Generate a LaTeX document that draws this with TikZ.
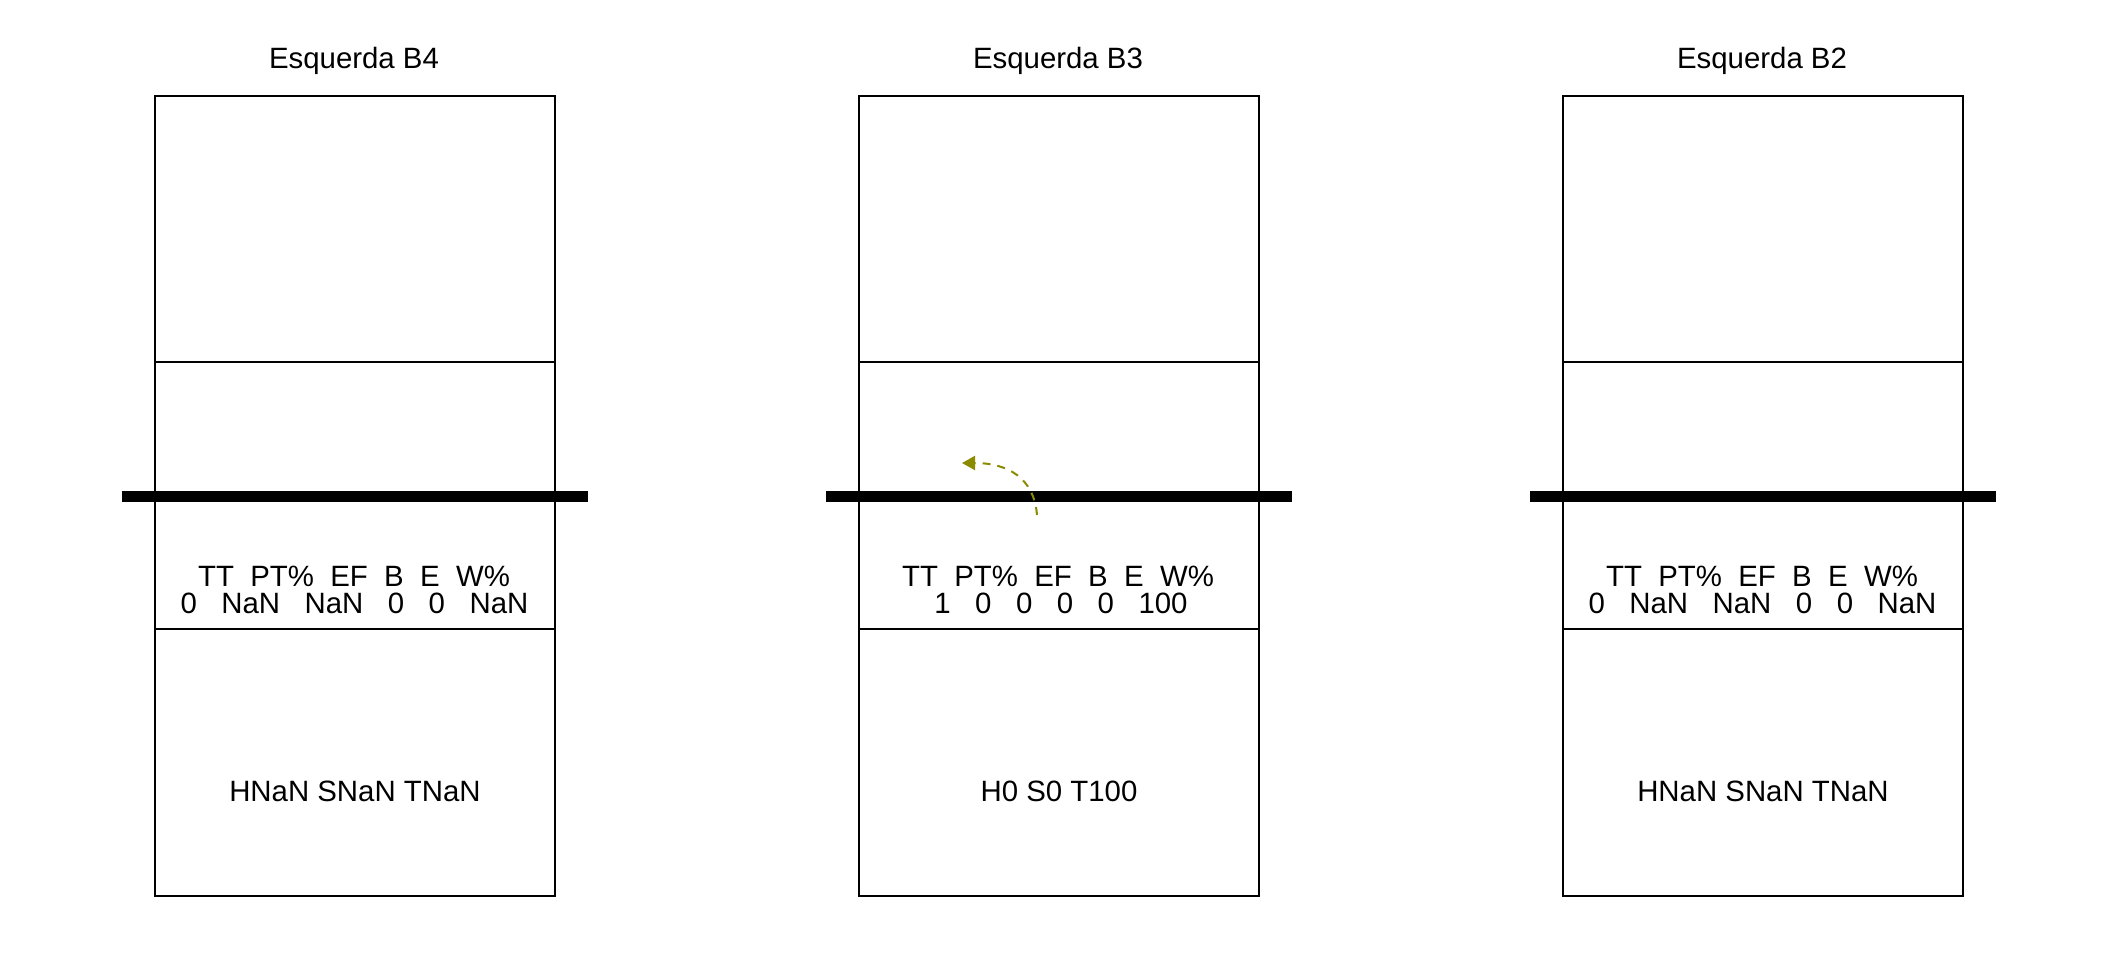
\documentclass[tikz,border=0pt]{standalone}
\usepackage{fontspec}
\setmainfont{Liberation Sans}
\usetikzlibrary{arrows.meta}
\definecolor{arrowolive}{RGB}{139,139,0}
\begin{document}
\begin{tikzpicture}[x=1bp,y=-1bp,
  court/.style={draw,line width=2bp,minimum width=400bp,minimum height=800bp,inner sep=0pt,outer sep=0pt},
  lbl/.style={font=\fontsize{29.5}{30}\selectfont,anchor=base,inner sep=0pt},
  net/.style={line width=10.7bp},
  sect/.style={line width=2bp},
  movearrow/.style={arrowolive,line width=2bp,dash pattern=on 8bp off 7bp,-{Triangle[length=13bp,width=14bp]}}]
\useasboundingbox (0,0) rectangle (2112,960);
\fill[white] (0,0) rectangle (2112,960);
\foreach \n/\cx/\dx/\hd/\dt/\bt in {
  B4/355/-0.5/{TT~~PT\%~~EF~~B~~E~~W\%}/{0~~~NaN~~~NaN~~~0~~~0~~~NaN}/{HNaN SNaN TNaN},
  B3/1059/2/{TT~~PT\%~~EF~~B~~E~~W\%}/{1~~~0~~~0~~~0~~~0~~~100}/{H0 S0 T100},
  B2/1763/-0.5/{TT~~PT\%~~EF~~B~~E~~W\%}/{0~~~NaN~~~NaN~~~0~~~0~~~NaN}/{HNaN SNaN TNaN}}{
  \node[court] (c\n) at (\cx,495.7) {};
  \draw[sect] ([yshift=-266.7bp]c\n.north west) -- ([yshift=-266.7bp]c\n.north east);
  \draw[sect] ([yshift=266.7bp]c\n.south west) -- ([yshift=266.7bp]c\n.south east);
  \draw[net] ([xshift=-33bp,yshift=-0.6bp]c\n.west) -- ([xshift=33bp,yshift=-0.6bp]c\n.east);
  \node[lbl] (t\n) at (\cx-1,68) {Esquerda \n};
  \node[lbl] (h\n) at (\cx-1,586.7) {\hd};
  \node[lbl] (d\n) at (\cx+\dx,613.3) {\dt};
  \node[lbl] (b\n) at (\cx,801.7) {\bt};
}
\coordinate (as) at (1037,515);
\coordinate (ae) at (962,463);
\draw[movearrow] (as) .. controls (1034,478) and (1008,463) .. (ae);
\end{tikzpicture}
\end{document}
